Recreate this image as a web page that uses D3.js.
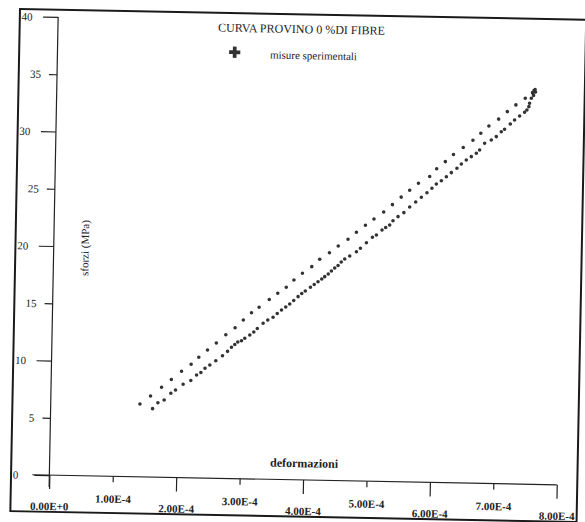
<!DOCTYPE html>
<html>
<head>
<meta charset="utf-8">
<title>Curva provino 0% di fibre</title>
<style>
  body { margin: 0; background: white; }
  svg text { font-family: "Liberation Serif", "DejaVu Serif", serif; fill: #222; }
  .axis path, .axis line { stroke: #222; stroke-width: 1.2; }
  .x.axis text { font-size: 11px; font-weight: bold; }
  .y.axis text { font-size: 11px; }
</style>
</head>
<body>
<svg id="chart" width="585" height="522"></svg>
<script src="https://cdn.jsdelivr.net/npm/d3@7"></script>
<script>
// strain values are in units of 1E-4, stress in MPa
var loadStrain = [1.607, 1.689, 1.787, 1.890, 1.963, 2.081, 2.201, 2.290, 2.357, 2.421,
  2.496, 2.589, 2.693, 2.771, 2.832, 2.883, 2.930, 2.988, 3.039, 3.117,
  3.179, 3.233, 3.323, 3.396, 3.478, 3.543, 3.609, 3.675, 3.737, 3.799,
  3.866, 3.923, 3.978, 4.058, 4.117, 4.176, 4.234, 4.280, 4.335, 4.384,
  4.435, 4.487, 4.536, 4.590, 4.668, 4.772, 4.834, 4.927, 5.020, 5.082,
  5.169, 5.226, 5.288, 5.339, 5.417, 5.508, 5.598, 5.691, 5.779, 5.866,
  5.943, 6.011, 6.089, 6.167, 6.244, 6.331, 6.399, 6.476, 6.554, 6.632,
  6.683, 6.760, 6.864, 6.942, 7.019, 7.070, 7.159, 7.225, 7.303, 7.380,
  7.416, 7.446, 7.456, 7.482, 7.505, 7.517, 7.523, 7.539, 7.547];
var loadStress = [5.97, 6.50, 6.74, 7.34, 7.64, 8.15, 8.49, 8.98, 9.21, 9.58,
  9.88, 10.26, 10.71, 11.10, 11.46, 11.71, 11.93, 12.05, 12.27, 12.56,
  12.83, 13.14, 13.61, 13.90, 14.15, 14.48, 14.80, 15.07, 15.33, 15.65,
  15.99, 16.27, 16.50, 16.83, 17.08, 17.33, 17.57, 17.78, 18.02, 18.29,
  18.55, 18.78, 19.09, 19.36, 19.63, 20.01, 20.32, 20.81, 21.30, 21.50,
  21.95, 22.17, 22.40, 22.78, 23.14, 23.50, 24.00, 24.45, 24.87, 25.28,
  25.67, 26.06, 26.35, 26.71, 27.07, 27.46, 27.84, 28.20, 28.50, 28.80,
  29.10, 29.69, 29.99, 30.29, 30.73, 30.95, 31.42, 31.77, 32.13, 32.46,
  32.67, 32.96, 33.26, 33.70, 34.14, 33.95, 34.38, 34.47, 34.25];

var unloadStrain = [1.406, 1.571, 1.742, 1.894, 2.052, 2.201, 2.320, 2.455, 2.592, 2.739,
  2.883, 3.010, 3.137, 3.255, 3.413, 3.545, 3.677, 3.796, 3.928, 4.073,
  4.196, 4.347, 4.484, 4.636, 4.766, 4.906, 5.039, 5.190, 5.325, 5.461,
  5.593, 5.729, 5.904, 6.012, 6.146, 6.272, 6.424, 6.575, 6.697, 6.822,
  6.973, 7.108, 7.241, 7.387, 7.500];
var unloadStress = [6.35, 7.07, 7.85, 8.55, 9.28, 9.91, 10.53, 11.18, 11.81, 12.55,
  13.17, 13.86, 14.51, 15.00, 15.69, 16.25, 16.79, 17.44, 18.04, 18.63,
  19.29, 19.88, 20.48, 21.08, 21.71, 22.33, 22.90, 23.52, 24.18, 24.85,
  25.47, 26.09, 26.70, 27.38, 28.02, 28.66, 29.29, 29.93, 30.56, 31.21,
  31.82, 32.49, 33.09, 33.69, 34.19];

var xTicks = [0, 1e-4, 2e-4, 3e-4, 4e-4, 5e-4, 6e-4, 7e-4, 8e-4];
var xTickLabels = ["0.00E+0", "1.00E-4", "2.00E-4", "3.00E-4", "4.00E-4",
  "5.00E-4", "6.00E-4", "7.00E-4", "8.00E-4"];
var yTicks = [0, 5, 10, 15, 20, 25, 30, 35, 40];

var title = "CURVA PROVINO 0 %DI FIBRE";
var legendLabel = "misure sperimentali";
var xLabel = "deformazioni";
var yLabel = "sforzi (MPa)";

var points = [];
loadStrain.forEach(function(v, i) { points.push({e: v * 1e-4, s: loadStress[i]}); });
unloadStrain.forEach(function(v, i) { points.push({e: v * 1e-4, s: unloadStress[i]}); });

var svg = d3.select("#chart");
// the scanned sheet sits a little crooked
var g = svg.append("g").attr("transform", "rotate(1.1,292,261)");

var x = d3.scaleLinear().domain([0, 8e-4]).range([53.5, 561]);
var y = d3.scaleLinear().domain([0, 40]).range([479.7, 21.5]);

// frame
g.append("rect")
  .attr("x", 15.2).attr("y", 14.2)
  .attr("width", 566.3).attr("height", 502.3)
  .attr("fill", "none").attr("stroke", "#1a1a1a").attr("stroke-width", 2);

// x axis
var xAxis = d3.axisBottom(x)
  .tickValues(xTicks)
  .tickFormat(function(d, i) { return xTickLabels[i]; })
  .tickSizeOuter(0);

var gx = g.append("g")
  .attr("class", "x axis")
  .attr("transform", "translate(0," + y(0) + ")")
  .call(xAxis);
gx.select(".domain").remove();
gx.append("line")
  .attr("x1", x(0) - 17).attr("x2", x(8e-4));
gx.selectAll(".tick line").attr("y2", function(d, i) { return i % 2 ? 6 : 14; });
gx.selectAll(".tick text")
  .attr("dy", null)
  .attr("y", function(d, i) { return i % 2 ? 26.5 : 35; })
  .attr("fill", "#222");

// y axis
var yAxis = d3.axisLeft(y).tickValues(yTicks).tickSizeOuter(0);
var gy = g.append("g")
  .attr("class", "y axis")
  .attr("transform", "translate(" + x(0) + ",0)")
  .call(yAxis);
gy.select(".domain").remove();
gy.append("line")
  .attr("y1", y(40)).attr("y2", y(0) + 12);
gy.selectAll(".tick line").attr("x2", function(d, i) { return i % 2 ? -8 : -15; });
gy.selectAll(".tick text")
  .attr("text-anchor", function(d, i) { return i % 2 ? "end" : "start"; })
  .attr("x", function(d, i) { return i % 2 ? -16 : -36.5; })
  .attr("fill", "#222");

// points
g.append("g").selectAll("circle")
  .data(points)
  .enter().append("circle")
  .attr("cx", function(d) { return x(d.e); })
  .attr("cy", function(d) { return y(d.s); })
  .attr("r", 1.8)
  .attr("fill", "#333");

// title + legend
g.append("text")
  .attr("x", 213.6).attr("y", 33)
  .style("font-size", "12px")
  .text(title);

g.append("path")
  .attr("d", d3.symbol(d3.symbolCross).size(70))
  .attr("transform", "translate(230.7,53.4)")
  .attr("fill", "#333");

g.append("text")
  .attr("x", 266).attr("y", 59)
  .style("font-size", "11px")
  .text(legendLabel);

// axis labels
g.append("text")
  .attr("x", 308).attr("y", 467)
  .attr("text-anchor", "middle")
  .style("font-size", "12px")
  .style("font-weight", "bold")
  .text(xLabel);

g.append("text")
  .attr("transform", "translate(88.5,252) rotate(-90)")
  .attr("text-anchor", "middle")
  .style("font-size", "11px")
  .text(yLabel);
</script>
</body>
</html>
